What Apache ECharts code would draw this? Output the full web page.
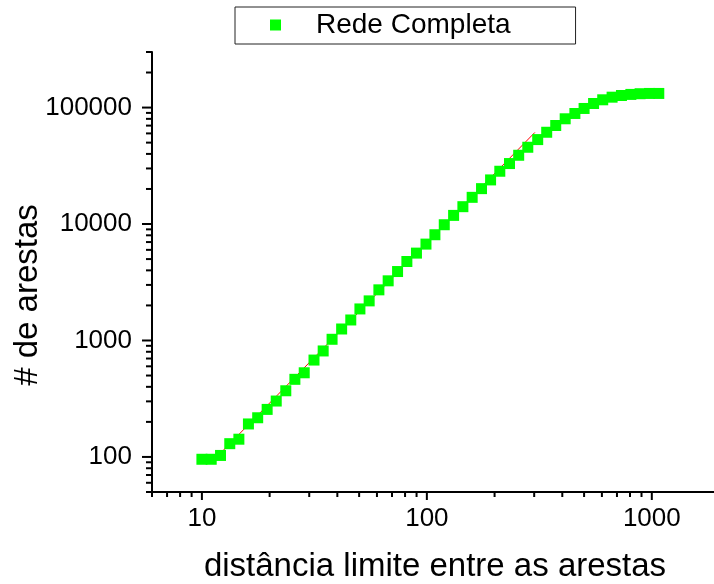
<!DOCTYPE html>
<html><head><meta charset="utf-8">
<script src="https://cdn.jsdelivr.net/npm/echarts@6/dist/echarts.min.js"></script>
<style>html,body{margin:0;padding:0;background:#fff}#c{width:714px;height:584px}</style>
</head><body><div id="c"></div>
<script>
// Data
const distancia = [10, 11.0, 12.1, 13.3, 14.6, 16.1, 17.7, 19.5, 21.4, 23.6,
  25.9, 28.5, 31.5, 34.6, 37.9, 41.8, 45.9, 50.4, 55.4, 61.2,
  67.3, 74.1, 81.5, 89.9, 99.1, 108.6, 119.5, 131.5, 144.6, 159,
  175, 192, 211, 233, 256, 281, 311, 341, 374, 412,
  455, 500, 551, 605, 666, 733, 807, 887, 977, 1074];
const arestas = [95.5, 95.5, 103, 130, 142, 192, 217, 256, 302, 370,
  464, 528, 679, 813, 1024, 1255, 1500, 1866, 2188, 2722,
  3253, 3909, 4765, 5626, 6723, 8091, 9860, 11860, 14090, 16950,
  20130, 23920, 28390, 33050, 38940, 45620, 53090, 61370, 70150, 80100,
  88980, 98240, 108400, 116600, 122800, 127000, 129700, 131500, 132200, 132200];
const ajusteX = [12, 302];
const ajusteY = [106, 61100];
const xMajorTicks = [10, 100, 1000];
const xMinorTicks = [6, 7, 8, 9, 20, 30, 40, 50, 60, 70, 80, 90, 200, 300, 400, 500, 600, 700, 800, 900];
const yMajorTicks = [100, 1000, 10000, 100000];
const yMinorTicks = [50, 60, 70, 80, 90, 200, 300, 400, 500, 600, 700, 800, 900,
  2000, 3000, 4000, 5000, 6000, 7000, 8000, 9000,
  20000, 30000, 40000, 50000, 60000, 70000, 80000, 90000, 200000, 300000];
const X_MIN = 6, X_MAX = 1890, Y_MIN = 50, Y_MAX = 300000;
const FONT = '"Liberation Sans", Arial, sans-serif';

function tickSeries(values, axis, len) {
  return {
    type: 'custom', silent: true, clip: false, z: 5,
    data: values.map(v => axis === 'x' ? [v, Y_MIN] : [X_MIN, v]),
    renderItem: function (params, api) {
      const p = api.coord([api.value(0), api.value(1)]);
      const shape = axis === 'x'
        ? { x1: p[0], y1: p[1], x2: p[0], y2: p[1] + len }
        : { x1: p[0], y1: p[1], x2: p[0] - len, y2: p[1] };
      return { type: 'line', shape: shape, style: { stroke: '#000', lineWidth: 2 } };
    }
  };
}
function isPow10(v) { const l = Math.log10(v); return Math.abs(l - Math.round(l)) < 1e-6; }

const chart = echarts.init(document.getElementById('c'), null, { renderer: 'canvas' });
chart.setOption({
  animation: false,
  backgroundColor: '#fff',
  grid: { left: 152, right: 0, top: 52, bottom: 92 },
  legend: {
    data: [{ name: 'Rede Completa', icon: 'rect' }],
    left: 235, top: 7, orient: 'horizontal',
    padding: [4, 65, 5, 35], itemWidth: 11, itemHeight: 11,
    borderColor: '#222', borderWidth: 1, selectedMode: false,
    textStyle: { fontSize: 28, color: '#000', fontFamily: FONT, padding: [0, 0, 0, 30] }
  },
  xAxis: {
    type: 'log', min: X_MIN, max: X_MAX, logBase: 10,
    axisLine: { show: true, lineStyle: { color: '#000', width: 2 } },
    axisTick: { show: false }, splitLine: { show: false }, minorTick: { show: false },
    axisLabel: { fontSize: 26, color: '#000', fontFamily: FONT, margin: 14,
      showMinLabel: false, showMaxLabel: false,
      formatter: v => isPow10(v) ? String(Math.round(v)) : '' }
  },
  yAxis: {
    type: 'log', min: Y_MIN, max: Y_MAX, logBase: 10,
    axisLine: { show: true, lineStyle: { color: '#000', width: 2 } },
    axisTick: { show: false }, splitLine: { show: false }, minorTick: { show: false },
    axisLabel: { fontSize: 26, color: '#000', fontFamily: FONT, margin: 20,
      showMinLabel: false, showMaxLabel: false,
      formatter: v => isPow10(v) ? String(Math.round(v)) : '' }
  },
  graphic: [
    { type: 'text', x: 435, y: 567, style: { text: 'distância limite entre as arestas', font: '33px ' + FONT, fill: '#000', align: 'center', verticalAlign: 'middle' } },
    { type: 'text', x: 28, y: 295, rotation: Math.PI / 2, style: { text: '# de arestas', font: '33px ' + FONT, fill: '#000', align: 'center', verticalAlign: 'middle' } }
  ],
  series: [
    { name: 'ajuste', type: 'line', data: ajusteX.map((x, i) => [x, ajusteY[i]]),
      symbol: 'none', lineStyle: { color: '#ff0000', width: 1 }, z: 1, silent: true },
    { name: 'Rede Completa', type: 'scatter', data: distancia.map((x, i) => [x, arestas[i]]),
      symbol: 'rect', symbolSize: 11, itemStyle: { color: '#00ff00', opacity: 1 }, z: 2 },
    tickSeries(xMajorTicks, 'x', 8),
    tickSeries(xMinorTicks, 'x', 5),
    tickSeries(yMajorTicks, 'y', 10),
    tickSeries(yMinorTicks, 'y', 6)
  ]
});
</script>
</body></html>
